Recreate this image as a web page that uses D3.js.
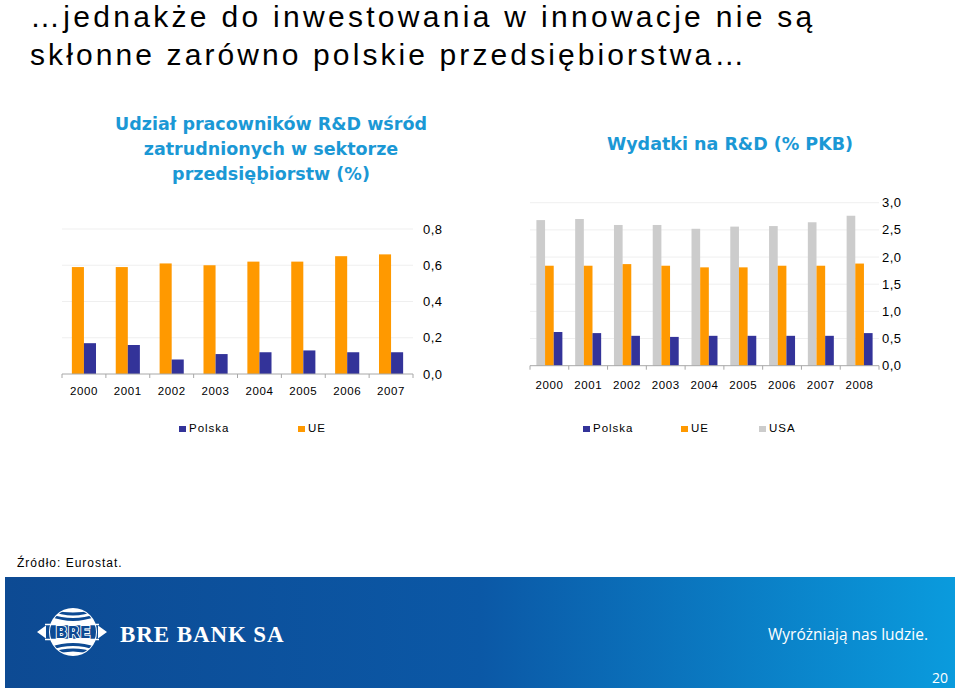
<!DOCTYPE html>
<html>
<head>
<meta charset="utf-8">
<script src="https://cdn.jsdelivr.net/npm/d3@7"></script>
<style>
  body { margin: 0; background: #fff; }
  svg { display: block; }
</style>
</head>
<body>
<svg id="chart" width="960" height="691"></svg>
<script>
// left chart - R&D staff share (%)
const years1 = ['2000', '2001', '2002', '2003', '2004', '2005', '2006', '2007'];
const polska1 = [0.17, 0.16, 0.08, 0.11, 0.12, 0.13, 0.12, 0.12];
const ue1 = [0.59, 0.59, 0.61, 0.60, 0.62, 0.62, 0.65, 0.66];
const ticks1 = [0, 0.2, 0.4, 0.6, 0.8];

// right chart - R&D spending (% GDP)
const years2 = ['2000', '2001', '2002', '2003', '2004', '2005', '2006', '2007', '2008'];
const polska2 = [0.62, 0.60, 0.55, 0.53, 0.55, 0.55, 0.55, 0.55, 0.60];
const ue2 = [1.84, 1.84, 1.87, 1.84, 1.81, 1.81, 1.84, 1.84, 1.88];
const usa2 = [2.68, 2.70, 2.59, 2.59, 2.52, 2.56, 2.57, 2.64, 2.76];
const ticks2 = [0, 0.5, 1.0, 1.5, 2.0, 2.5, 3.0];

const colors = { Polska: '#333399', UE: '#ff9900', USA: '#cccccc' };
const titleBlue = '#1b98d5';
const sans = '"Liberation Sans", Arial, sans-serif';

const fmt = d3.formatLocale({ decimal: ',', thousands: ' ', grouping: [3], currency: ['', ''] }).format('.1f');

const svg = d3.select('#chart');

// heading
const head = svg.append('text')
  .style('font-family', sans)
  .style('font-size', '30px')
  .style('letter-spacing', '3.3px')
  .style('fill', '#000');
head.append('tspan').attr('x', 30).attr('y', 27).text('…jednakże do inwestowania w innowacje nie są');
head.append('tspan').attr('x', 30).attr('y', 65).style('letter-spacing', '3.1px').text('skłonne zarówno polskie przedsiębiorstwa…');

function chartTitle(lines, cx, y0) {
  const t = svg.append('text')
    .attr('text-anchor', 'middle')
    .style('font-family', '"DejaVu Sans", Verdana, sans-serif')
    .style('font-weight', 'bold')
    .style('font-size', '17.5px')
    .style('fill', titleBlue);
  lines.forEach((l, i) => {
    t.append('tspan').attr('x', cx).attr('y', y0 + i * 25).text(l);
  });
}

chartTitle(['Udział pracowników R&D wśród', 'zatrudnionych w sektorze', 'przedsiębiorstw (%)'], 271, 130);
chartTitle(['Wydatki na R&D (% PKB)'], 730, 150);

function barChart(opt) {
  const g = svg.append('g');
  const x0 = d3.scaleBand()
    .domain(opt.years)
    .range([opt.left, opt.right])
    .paddingInner(opt.pad)
    .paddingOuter(opt.pad / 2);
  const x1 = d3.scaleBand()
    .domain(opt.series.map(s => s.name))
    .range([0, x0.bandwidth()]);
  const y = d3.scaleLinear()
    .domain([0, opt.max])
    .range([opt.bottom, opt.top]);

  // faint gridlines
  g.append('g')
    .selectAll('line')
    .data(opt.ticks.filter(d => d > 0))
    .enter()
    .append('line')
    .attr('x1', opt.left)
    .attr('x2', opt.right)
    .attr('y1', d => y(d))
    .attr('y2', d => y(d))
    .attr('stroke', '#efefef')
    .attr('stroke-width', 1);

  // bars
  opt.series.forEach(s => {
    g.append('g')
      .selectAll('rect')
      .data(s.values)
      .enter()
      .append('rect')
      .attr('x', (d, i) => x0(opt.years[i]) + x1(s.name))
      .attr('y', d => y(d))
      .attr('width', x1.bandwidth())
      .attr('height', d => y(0) - y(d))
      .attr('fill', colors[s.name]);
  });

  // category axis
  const xAxis = g.append('g').attr('transform', `translate(0,${opt.bottom})`);
  xAxis.append('line')
    .attr('x1', opt.left)
    .attr('x2', opt.right)
    .attr('stroke', '#a8a8a8');
  const step = x0.step();
  xAxis.selectAll('line.tick')
    .data(d3.range(opt.years.length + 1))
    .enter()
    .append('line')
    .attr('class', 'tick')
    .attr('x1', i => opt.left + i * step)
    .attr('x2', i => opt.left + i * step)
    .attr('y1', 0)
    .attr('y2', 4)
    .attr('stroke', '#a8a8a8');
  xAxis.selectAll('text')
    .data(opt.years)
    .enter()
    .append('text')
    .attr('x', d => x0(d) + x0.bandwidth() / 2)
    .attr('y', opt.yearY - opt.bottom)
    .attr('text-anchor', 'middle')
    .style('font-family', sans)
    .style('font-size', '11.5px')
    .style('letter-spacing', '0.6px')
    .style('fill', '#000')
    .text(d => d);

  // value axis on the right, labels only
  g.append('g')
    .selectAll('text')
    .data(opt.ticks)
    .enter()
    .append('text')
    .attr('x', opt.labelX)
    .attr('y', d => y(d))
    .attr('dy', '0.35em')
    .style('font-family', sans)
    .style('font-size', '13px')
    .style('letter-spacing', '0.4px')
    .style('fill', '#000')
    .text(d => fmt(d));
}

barChart({
  years: years1,
  series: [{ name: 'UE', values: ue1 }, { name: 'Polska', values: polska1 }],
  left: 62, right: 413, top: 229, bottom: 374, max: 0.8,
  pad: 0.45, ticks: ticks1, labelX: 423, yearY: 395
});

barChart({
  years: years2,
  series: [{ name: 'USA', values: usa2 }, { name: 'UE', values: ue2 }, { name: 'Polska', values: polska2 }],
  left: 530, right: 879, top: 202.7, bottom: 365.7, max: 3.0,
  pad: 0.33, ticks: ticks2, labelX: 882, yearY: 389
});

// legends
function legend(items) {
  const lg = svg.append('g').selectAll('g')
    .data(items)
    .enter()
    .append('g')
    .attr('transform', d => `translate(${d.x},426)`);
  lg.append('rect')
    .attr('width', 7)
    .attr('height', 6)
    .attr('fill', d => colors[d.name]);
  lg.append('text')
    .attr('x', 10)
    .attr('y', 5.5)
    .style('font-family', sans)
    .style('font-size', '11.5px')
    .style('letter-spacing', '1px')
    .style('fill', '#000')
    .text(d => d.name);
}
legend([{ name: 'Polska', x: 179 }, { name: 'UE', x: 298 }]);
legend([{ name: 'Polska', x: 583 }, { name: 'UE', x: 681 }, { name: 'USA', x: 759 }]);

// source
svg.append('text')
  .attr('x', 17)
  .attr('y', 567)
  .style('font-family', sans)
  .style('font-size', '12px')
  .style('letter-spacing', '1px')
  .style('fill', '#000')
  .text('Źródło: Eurostat.');

// footer band
const defs = svg.append('defs');
const grad = defs.append('linearGradient').attr('id', 'band');
grad.append('stop').attr('offset', '0%').attr('stop-color', '#0d4a93');
grad.append('stop').attr('offset', '50%').attr('stop-color', '#0b58a6');
grad.append('stop').attr('offset', '100%').attr('stop-color', '#0a9bdd');

svg.append('rect')
  .attr('x', 5)
  .attr('y', 577)
  .attr('width', 950)
  .attr('height', 111)
  .attr('fill', 'url(#band)');

// logo globe
const logo = svg.append('g').attr('transform', 'translate(73,632)');
defs.append('clipPath').attr('id', 'globe')
  .append('circle').attr('r', 23);
logo.append('circle').attr('r', 24).attr('fill', '#fff');
const inner = logo.append('g').attr('clip-path', 'url(#globe)');
[-18, -12.5, 12.5, 18].forEach(o => {
  const bend = o < 0 ? -5 : 5;
  inner.append('path')
    .attr('d', `M -25 ${o + bend} Q 0 ${o - bend} 25 ${o + bend}`)
    .attr('fill', 'none')
    .attr('stroke', '#0d4a93')
    .attr('stroke-width', 2.8);
});
inner.append('rect')
  .attr('x', -25).attr('y', -7)
  .attr('width', 50).attr('height', 14)
  .attr('fill', '#0d4a93');
logo.append('path')
  .attr('d', 'M -36 0 L -27 -6.5 L -27 6.5 Z M 34 0 L 25 -6.5 L 25 6.5 Z')
  .attr('fill', '#fff');
logo.append('line').attr('x1', -28).attr('x2', 26).attr('y1', -7.5).attr('y2', -7.5)
  .attr('stroke', '#fff').attr('stroke-width', 1.6);
logo.append('line').attr('x1', -28).attr('x2', 26).attr('y1', 7.5).attr('y2', 7.5)
  .attr('stroke', '#fff').attr('stroke-width', 1.6);
logo.append('text')
  .attr('text-anchor', 'middle')
  .attr('y', 6)
  .style('font-family', '"DejaVu Sans", sans-serif')
  .style('font-weight', 'bold')
  .style('font-size', '16px')
  .style('fill', '#0d4a93')
  .style('stroke', '#fff')
  .style('stroke-width', 1.8)
  .style('paint-order', 'stroke')
  .text('BRE');

svg.append('text')
  .attr('x', 120)
  .attr('y', 642)
  .style('font-family', '"Liberation Serif", "Times New Roman", serif')
  .style('font-weight', 'bold')
  .style('font-size', '23px')
  .style('letter-spacing', '0.9px')
  .style('fill', '#fff')
  .text('BRE BANK SA');

svg.append('text')
  .attr('x', 928)
  .attr('y', 640)
  .attr('text-anchor', 'end')
  .style('font-family', '"Open Sans", sans-serif')
  .style('font-size', '15.5px')
  .style('fill', '#fff')
  .text('Wyróżniają nas ludzie.');

svg.append('text')
  .attr('x', 948)
  .attr('y', 683)
  .attr('text-anchor', 'end')
  .style('font-family', '"Open Sans", sans-serif')
  .style('font-size', '14px')
  .style('fill', '#fff')
  .text('20');
</script>
</body>
</html>
